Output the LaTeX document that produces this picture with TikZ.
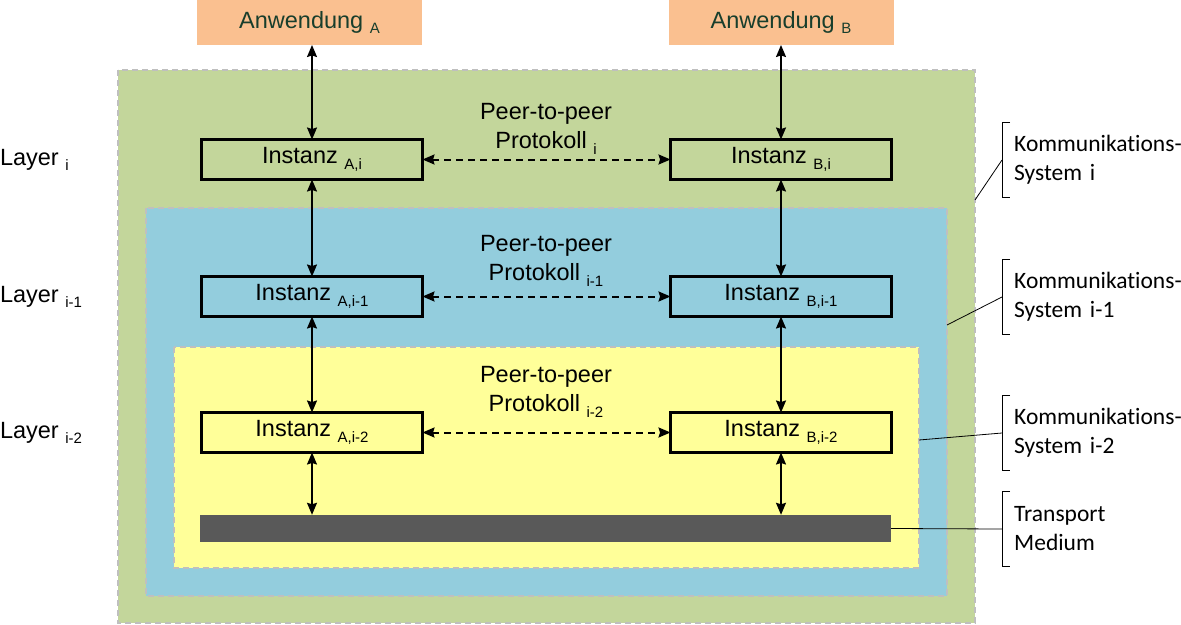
\documentclass[tikz,border=0pt]{standalone}
\usepackage{fontspec}
\setmainfont{Liberation Sans}
\newfontfamily\labelfont[Ligatures=NoCommon]{Carlito}
\usetikzlibrary{arrows.meta,calc}

\definecolor{appColor}{RGB}{250,192,144}
\definecolor{appText}{RGB}{24,62,44}
\definecolor{sysIColor}{RGB}{195,214,155}
\definecolor{sysIIColor}{RGB}{147,205,221}
\definecolor{sysIIIColor}{RGB}{255,255,153}
\definecolor{borderColor}{RGB}{191,191,191}
\definecolor{mediumColor}{RGB}{89,89,89}

\newcommand{\lsub}[1]{\ \raisebox{-0.45ex}{\fontsize{15}{15}\selectfont #1}}

\tikzset{
  txt/.style={inner sep=0pt, outer sep=0pt, font=\fontsize{23.5}{29}\selectfont},
  app/.style={txt, fill=appColor, text=appText, minimum width=225, minimum height=45},
  inst/.style={txt, draw=black, line width=3pt, minimum width=221, minimum height=40},
  sysbox/.style={draw=borderColor, line width=1.5pt, dash pattern=on 6pt off 4pt},
  updown/.style={line width=1.6pt, {Stealth[length=12pt,width=10pt,inset=1.5pt]}-{Stealth[length=12pt,width=10pt,inset=1.5pt]}},
  peer/.style={updown, line width=2pt, dash pattern=on 7pt off 5pt},
  sidelbl/.style={inner xsep=12pt, inner ysep=0pt, minimum height=74, text width=175,
    align=left, font=\labelfont\fontsize{23.5}{29}\selectfont},
  lead/.style={line width=0.8pt},
}

\begin{document}
\begin{tikzpicture}[x=1pt,y=-1pt]
\path[use as bounding box,fill=white] (0,0) rectangle (1181,624);

% nested systems
\path[sysbox,fill=sysIColor]   (118, 70) rectangle (975,623);
\path[sysbox,fill=sysIIColor]  (146,208) rectangle (947,596);
\path[sysbox,fill=sysIIIColor] (174,347) rectangle (919,568);

% applications
\node[app] (appA) at (309.5,22.5) {Anwendung\lsub{A}};
\node[app] (appB) at (781,22.5) {Anwendung\lsub{B}};

% instances
\node[inst] (a1) at (312,159.5) {Instanz\lsub{A,i}};
\node[inst] (b1) at (781,159.5) {Instanz\lsub{B,i}};
\node[inst] (a2) at (312,296.5) {Instanz\lsub{A,i-1}};
\node[inst] (b2) at (781,296.5) {Instanz\lsub{B,i-1}};
\node[inst] (a3) at (312,432.5) {Instanz\lsub{A,i-2}};
\node[inst] (b3) at (781,432.5) {Instanz\lsub{B,i-2}};

% transport medium
\node[fill=mediumColor, inner sep=0pt, minimum width=691, minimum height=27] (medium) at (545.5,528.5) {};

% peer-to-peer labels
\node[txt, align=center] (p1) at (546,129) {Peer-to-peer\\Protokoll\lsub{i}};
\node[txt, align=center] (p2) at (546,261) {Peer-to-peer\\Protokoll\lsub{i-1}};
\node[txt, align=center] (p3) at (546,392) {Peer-to-peer\\Protokoll\lsub{i-2}};

% layers
\node[txt, anchor=west] (l1) at (0,160) {Layer\lsub{i}};
\node[txt, anchor=west] (l2) at (0,297) {Layer\lsub{i-1}};
\node[txt, anchor=west] (l3) at (0,433) {Layer\lsub{i-2}};

% vertical connectors
\draw[updown] (a1.north |- appA.south) -- (a1.north);
\draw[updown] (appB.south) -- (b1.north);
\draw[updown] (a1.south) -- (a2.north);
\draw[updown] (b1.south) -- (b2.north);
\draw[updown] (a2.south) -- (a3.north);
\draw[updown] (b2.south) -- (b3.north);
\draw[updown] (a3.south) -- (a3.south |- medium.north);
\draw[updown] (b3.south) -- (b3.south |- medium.north);

% peer connectors
\draw[peer] (a1) -- (b1);
\draw[peer] (a2) -- (b2);
\draw[peer] (a3) -- (b3);

% side labels
\node[sidelbl, anchor=west] (k1) at (1002,160) {Kommunikations-\\System i};
\node[sidelbl, anchor=west] (k2) at (1002,297) {Kommunikations-\\System i-1};
\node[sidelbl, anchor=west] (k3) at (1002,433) {Kommunikations-\\System i-2};
\node[sidelbl, anchor=west] (k4) at (1002,529) {Transport\\Medium};

\foreach \k in {k1,k2,k3,k4}
  \draw[lead] ($(\k.north west)+(8,0)$) -- (\k.north west) -- (\k.south west) -- ++(8,0);

\coordinate (s1) at (975,200);
\coordinate (s2) at (947,325);
\coordinate (s3) at (919,440);
\draw[lead] (s1) -- (k1.west);
\draw[lead] (s2) -- (k2.west);
\draw[lead] (s3) -- (k3.west);
\draw[lead] (medium.east) -- (k4.west);
\end{tikzpicture}
\end{document}
